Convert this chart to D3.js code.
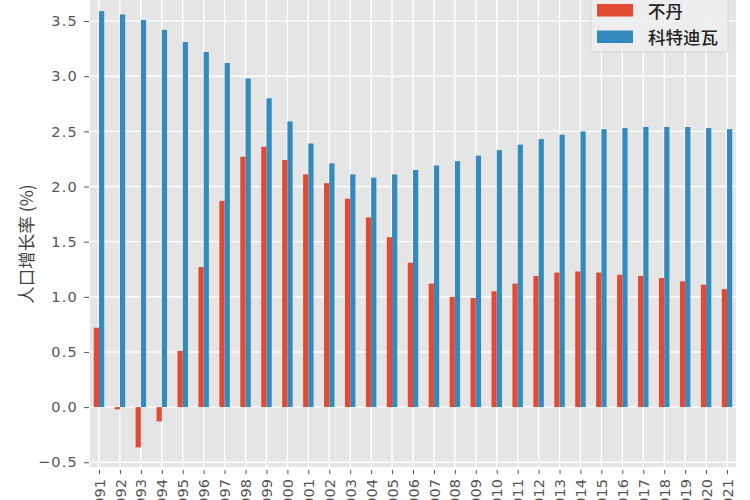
<!DOCTYPE html>
<html>
<head>
<meta charset="utf-8">
<script src="https://cdn.jsdelivr.net/npm/d3@7"></script>
<style>
  html, body { margin: 0; padding: 0; background: #fff; }
  svg { display: block; }
</style>
</head>
<body>
<svg id="chart" width="750" height="500"></svg>
<script>
const years = d3.range(1991, 2022).map(String);
const seriesNames = ["不丹", "科特迪瓦"];
const bhutan = [0.72, -0.02, -0.365, -0.13, 0.51, 1.27, 1.87, 2.27, 2.36, 2.24,
  2.11, 2.03, 1.89, 1.72, 1.54, 1.31, 1.12, 1.00, 0.99, 1.05,
  1.12, 1.19, 1.22, 1.23, 1.22, 1.20, 1.19, 1.17, 1.14, 1.11, 1.07];
const coteDivoire = [3.59, 3.56, 3.51, 3.42, 3.31, 3.22, 3.12, 2.98, 2.80, 2.59,
  2.39, 2.21, 2.11, 2.08, 2.11, 2.15, 2.19, 2.23, 2.28, 2.33,
  2.38, 2.43, 2.47, 2.50, 2.52, 2.53, 2.54, 2.54, 2.54, 2.53, 2.52];
const yTicks = [-0.5, 0.0, 0.5, 1.0, 1.5, 2.0, 2.5, 3.0, 3.5];
const yLabel = "人口增长率 (%)";
const colors = ["#E24A33", "#348ABD"];

const svg = d3.select("#chart");
const plot = { left: 90, right: 736, top: -12, bottom: 467 };

const x = d3.scalePoint().domain(years).range([plot.left, plot.right]).padding(0.43);
const y = d3.scaleLinear().domain([-0.543, 3.8]).range([plot.bottom, plot.top]);
const step = x.step();
const barW = step * 0.25;

// background
svg.append("rect").attr("x", plot.left).attr("y", plot.top)
  .attr("width", plot.right - plot.left).attr("height", plot.bottom - plot.top)
  .attr("fill", "#E5E5E5");

// grid
svg.append("g").selectAll("line").data(yTicks).join("line")
  .attr("x1", plot.left).attr("x2", plot.right)
  .attr("y1", d => y(d)).attr("y2", d => y(d))
  .attr("stroke", "#fff").attr("stroke-width", 1.4);
svg.append("g").selectAll("line").data(years).join("line")
  .attr("x1", d => x(d)).attr("x2", d => x(d))
  .attr("y1", plot.top).attr("y2", plot.bottom)
  .attr("stroke", "#fff").attr("stroke-width", 1.4);

// bars
const seriesData = [bhutan, coteDivoire];
seriesData.forEach((vals, si) => {
  svg.append("g").selectAll("rect").data(vals).join("rect")
    .attr("x", (d, i) => x(years[i]) + (si === 0 ? -barW : 0))
    .attr("width", barW)
    .attr("y", d => Math.min(y(d), y(0)))
    .attr("height", d => Math.abs(y(d) - y(0)))
    .attr("fill", colors[si]);
});

// y axis
const yAxis = d3.axisLeft(y).tickValues(yTicks).tickFormat(d3.format(".1f"))
  .tickSize(5).tickPadding(6);
const gy = svg.append("g").attr("transform", `translate(${plot.left - 1},0)`).call(yAxis);
gy.select(".domain").remove();
gy.selectAll(".tick line").attr("stroke", "#555");
gy.selectAll(".tick text").attr("fill", "#555")
  .style("font-family", "'DejaVu Sans', sans-serif").style("font-size", "14.5px")
  .style("letter-spacing", "1.2px");

// x axis
const xAxis = d3.axisBottom(x).tickSize(4).tickPadding(5);
const gx = svg.append("g").attr("transform", `translate(0,${plot.bottom + 3})`).call(xAxis);
gx.select(".domain").remove();
gx.selectAll(".tick line").attr("stroke", "#555");
gx.selectAll(".tick text").attr("fill", "#555")
  .style("font-family", "'DejaVu Sans', sans-serif").style("font-size", "14.5px")
  .attr("transform", "rotate(-90)")
  .attr("text-anchor", "end")
  .attr("x", -9).attr("y", 0).attr("dy", "0.35em");

// y label
svg.append("text")
  .attr("transform", "translate(25,244) rotate(-90)")
  .attr("text-anchor", "middle").attr("dominant-baseline", "central")
  .attr("fill", "#444")
  .style("font-family", "'Noto Sans CJK SC', sans-serif").style("font-size", "17.5px")
  .text(yLabel);

// legend
const lg = svg.append("g");
lg.append("rect").attr("x", 591).attr("y", -8).attr("width", 137).attr("height", 60)
  .attr("rx", 3).attr("fill", "rgba(238,238,238,0.85)").attr("stroke", "#d4d4d4");
seriesNames.forEach((name, i) => {
  const yy = 10 + i * 26.5;
  lg.append("rect").attr("x", 597).attr("y", yy - 6).attr("width", 36).attr("height", 12.5)
    .attr("fill", colors[i]);
  lg.append("text").attr("x", 648).attr("y", yy).attr("dominant-baseline", "central")
    .attr("fill", "#222")
    .style("font-family", "'Noto Sans CJK SC', sans-serif").style("font-size", "17.5px")
    .style("font-weight", "500")
    .text(name);
});
</script>
</body>
</html>
